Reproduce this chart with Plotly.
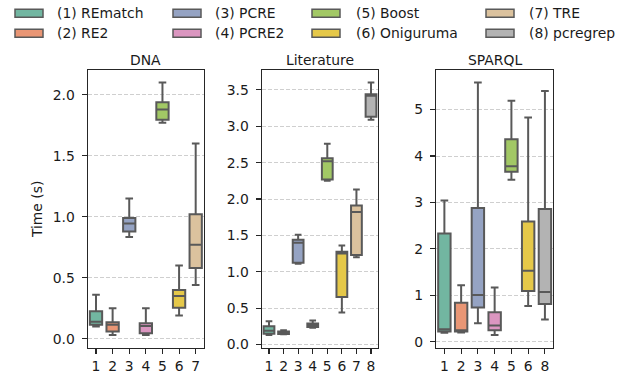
import colorsys
import plotly.graph_objects as go

# ---------------- data ----------------
engines = ["(1) REmatch", "(2) RE2", "(3) PCRE", "(4) PCRE2",
           "(5) Boost", "(6) Oniguruma", "(7) TRE", "(8) pcregrep"]
base_colors = ["#66c2a5", "#fc8d62", "#8da0cb", "#e78ac3",
               "#a6d854", "#ffd92f", "#e5c494", "#b3b3b3"]

dna_ids = [1, 2, 3, 4, 5, 6, 7]
dna_low = [0.10, 0.03, 0.835, 0.03, 1.77, 0.19, 0.44]
dna_q1 = [0.115, 0.06, 0.88, 0.045, 1.795, 0.255, 0.58]
dna_med = [0.14, 0.115, 0.945, 0.105, 1.88, 0.35, 0.77]
dna_q3 = [0.225, 0.135, 0.99, 0.127, 1.94, 0.40, 1.02]
dna_high = [0.36, 0.25, 1.15, 0.25, 2.10, 0.60, 1.60]

lit_ids = [1, 2, 3, 4, 5, 6, 7, 8]
lit_low = [0.13, 0.14, 1.11, 0.23, 2.25, 0.44, 1.20, 3.09]
lit_q1 = [0.147, 0.145, 1.124, 0.24, 2.27, 0.655, 1.23, 3.13]
lit_med = [0.19, 0.16, 1.40, 0.26, 2.52, 1.25, 1.82, 3.42]
lit_q3 = [0.25, 0.178, 1.44, 0.29, 2.56, 1.275, 1.91, 3.44]
lit_high = [0.32, 0.197, 1.51, 0.33, 2.76, 1.36, 2.13, 3.60]

sp_ids = [1, 2, 3, 4, 5, 6, 8]
sp_low = [0.195, 0.20, 0.40, 0.145, 3.49, 0.77, 0.48]
sp_q1 = [0.22, 0.22, 0.74, 0.25, 3.66, 1.095, 0.815]
sp_med = [0.27, 0.25, 1.01, 0.35, 3.78, 1.53, 1.07]
sp_q3 = [2.33, 0.84, 2.88, 0.635, 4.36, 2.59, 2.86]
sp_high = [3.04, 1.22, 5.58, 1.17, 5.19, 4.83, 5.40]

panels = [
    ("DNA", dna_ids, dna_low, dna_q1, dna_med, dna_q3, dna_high, 0.5, ".1f"),
    ("Literature", lit_ids, lit_low, lit_q1, lit_med, lit_q3, lit_high, 0.5, ".1f"),
    ("SPARQL", sp_ids, sp_low, sp_q1, sp_med, sp_q3, sp_high, 1, "d"),
]

# ---------------- style ----------------
W, H = 636, 374
FONT = "DejaVu Sans"
FS = 13.9
TXT = "#1a1a1a"
LINE = "#595959"


def px_x(p):
    return p / W


def px_y(p):
    return 1 - p / H


def desat(hexc, prop=0.75):
    r, g, b = (int(hexc[i:i + 2], 16) / 255 for i in (1, 3, 5))
    h, l, s = colorsys.rgb_to_hls(r, g, b)
    r, g, b = colorsys.hls_to_rgb(h, l, s * prop)
    return "rgb(%d,%d,%d)" % (round(r * 255), round(g * 255), round(b * 255))


colors = [desat(c) for c in base_colors]

# axes placement in window pixels (left, right), shared top/bottom
x_px = [(87.7, 204.0), (261.7, 378.3), (436.0, 553.3)]
top_px, bot_px = 70.0, 347.7

fig = go.Figure()
annotations = []
shapes = []

for k, (title, ids, lo, q1, md, q3, hi, dtick, fmt) in enumerate(panels):
    ax = "" if k == 0 else str(k + 1)
    xa, ya = "x" + ax, "y" + ax
    for j, eid in enumerate(ids):
        pos = j + 1
        fig.add_trace(go.Box(
            x=[pos], q1=[q1[j]], median=[md[j]], q3=[q3[j]],
            lowerfence=[lo[j]], upperfence=[hi[j]],
            boxpoints=False, width=0.74, whiskerwidth=0.62,
            fillcolor=colors[eid - 1],
            line=dict(color=LINE, width=2),
            name=engines[eid - 1], showlegend=False,
            xaxis=xa, yaxis=ya, hoverinfo="skip",
        ))
    ymin, ymax = min(lo), max(hi)
    pad = (ymax - ymin) * 0.05
    n = len(ids)
    xl, xr = x_px[k]
    common = dict(showline=True, mirror=True, linecolor="#262626", linewidth=1.1,
                  ticks="outside", ticklen=5, tickwidth=1.1, tickcolor="#262626",
                  tickfont=dict(family=FONT, size=FS, color=TXT),
                  zeroline=False, automargin=False)
    fig.layout["xaxis" + ax] = dict(
        domain=[px_x(xl), px_x(xr)], anchor=ya, range=[0.5, n + 0.5],
        tickvals=list(range(1, n + 1)), ticktext=[str(i) for i in ids],
        showgrid=False, ticklabelstandoff=1, **common)
    fig.layout["yaxis" + ax] = dict(
        domain=[px_y(bot_px), px_y(top_px)], anchor=xa,
        range=[ymin - pad, ymax + pad], dtick=dtick, tick0=0, tickformat=fmt,
        showgrid=True, gridcolor="#cfcfcf", gridwidth=1, griddash="4px,2px",
        ticklabelstandoff=4, **common)
    annotations.append(dict(
        text=title, x=px_x((xl + xr) / 2), y=px_y(60), xref="paper", yref="paper",
        xanchor="center", yanchor="middle", showarrow=False,
        font=dict(family=FONT, size=FS, color=TXT)))

fig.layout.yaxis.title = dict(text="Time (s)", standoff=6,
                              font=dict(family=FONT, size=FS, color=TXT))

# ---------------- legend (2 rows x 4 columns, column-major) ----------------
col_patch_x = [15, 173, 312, 486]
col_text_x = [55, 213, 354, 527]
row_y = [13.2, 33.3]
for i, name in enumerate(engines):
    c, r = i // 2, i % 2
    x0 = col_patch_x[c]
    yc = row_y[r]
    shapes.append(dict(type="rect", xref="paper", yref="paper",
                       x0=px_x(x0), x1=px_x(x0 + 28),
                       y0=px_y(yc + 4), y1=px_y(yc - 4),
                       fillcolor=colors[i], line=dict(color=LINE, width=1.5)))
    annotations.append(dict(
        text=name, x=px_x(col_text_x[c]), y=px_y(yc), xref="paper", yref="paper",
        xanchor="left", yanchor="middle", showarrow=False,
        font=dict(family=FONT, size=FS, color=TXT)))

fig.update_layout(
    width=W, height=H, margin=dict(l=0, r=0, t=0, b=0),
    paper_bgcolor="white", plot_bgcolor="white",
    showlegend=False, boxmode="overlay", hovermode=False,
    annotations=annotations, shapes=shapes,
    font=dict(family=FONT, size=FS, color=TXT),
)

fig.write_html("out.html",
               config={"displayModeBar": False, "staticPlot": True},
               post_script="document.body.style.margin='0';"
                           "document.body.style.overflow='hidden';")
